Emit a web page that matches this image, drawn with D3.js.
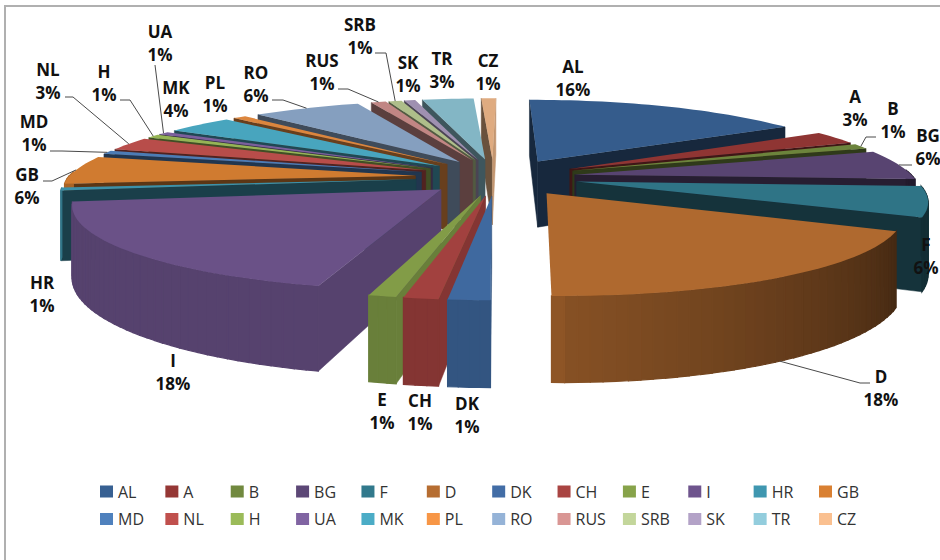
<!DOCTYPE html>
<html lang="en">
<head>
<meta charset="utf-8"/>
<title>3D exploded pie</title>
<script src="https://d3js.org/d3.v7.min.js"></script>
<style>
  body { margin: 0; background: #fff; }
  text { font-family: "Open Sans", sans-serif; }
</style>
</head>
<body>
<div id="chart"></div>
<script>
// values, percent
var categories = ["AL","A","B","BG","F","D","DK","CH","E","I","HR","GB","MD","NL","H","UA","MK","PL","RO","RUS","SRB","SK","TR","CZ"];
var values = [15.8,2.6,1.0,5.8,5.8,18.0,1.5,1.25,1.0,18.0,0.6,5.5,0.7,2.6,0.7,0.6,3.6,0.7,5.8,0.8,0.7,0.6,2.8,0.8];
var percentLabels = [16,3,1,6,6,18,1,1,1,18,1,6,1,3,1,1,4,1,6,1,1,1,3,1];
var colors = ["#376092","#953735","#71893F","#5C4776","#31798C","#B66D31","#426DA6","#A94442","#87A34A","#6E548D","#3F97B0","#D98032","#4F81BD","#C0504D","#9BBB59","#8064A2","#4BACC6","#F79646","#95B3D7","#D99694","#C3D69B","#B3A2C7","#93CDDD","#FAC090"];

var w = 940, h = 560;

// label centres (name line); second line sits below
var labelPos = {
  AL:[573,67], A:[855,97], B:[893,109], BG:[928,136], F:[926,245], D:[881,377],
  DK:[467,404], CH:[420,401], E:[382,400], I:[173,361], HR:[42,283], GB:[27,175],
  MD:[34,122], NL:[48,70], H:[104,72], UA:[160,32], MK:[176,88], PL:[215,83],
  RO:[256,73], RUS:[322,61], SRB:[360,25], SK:[408,63], TR:[442,59], CZ:[488,61]
};
// leader stubs: start of the line and the elbow; the end is on the slice rim
var leaders = {
  B:[[876,137],[866,137]], BG:[[912,165],[901,165]], D:[[870,383],[860,383]], GB:[[43,181],[52,181]],
  MD:[[50,151],[62,151]], NL:[[65,97],[73,97]], H:[[120,100],[130,100]], UA:[[155,65]],
  RO:[[272,100],[283,100]], RUS:[[338,89],[348,89]], SRB:[[375,53],[386,53]]
};

// projection settings of the 3d pie
var cx = 494, cy = 177, persp = 1900, yScale = 0.229, skew = 0.035, backSkew = 0.03;
var radius = 340, radiusLeft = 346, explode = 80, apexShift = 7, depth = 68;

function project(X, Y, z) {
  var s = persp / (persp + Y);
  return [cx + X * s + Math.max(0, -Y) * skew + Math.max(0, Y - 300) * backSkew, cy - yScale * Y * s + z * s];
}

var pie = d3.pie().sort(null);
var slices = pie(values).map(function (d) {
  var mid = (d.startAngle + d.endAngle) / 2;
  return {
    i: d.index, name: categories[d.index], start: d.startAngle, end: d.endAngle, mid: mid,
    ax: explode * Math.sin(mid), ay: explode * Math.cos(mid)
  };
});

function rimPoint(s, a, z) {
  var sin = Math.sin(a);
  return project(s.ax + (sin < 0 ? radiusLeft : radius) * sin, s.ay + radius * Math.cos(a), z);
}
function apex(s, z) {
  var p = project(s.ax, s.ay, z);
  return [p[0] + apexShift * Math.abs(Math.sin(2 * s.mid)), p[1]];
}

var poly = d3.line().curve(d3.curveLinearClosed);

var svg = d3.select("#chart").append("svg").attr("width", w).attr("height", h);

// frame, only top and left are inside the picture
svg.append("rect").attr("x", 5).attr("y", 6).attr("width", 950).attr("height", 600)
  .attr("fill", "none").attr("stroke", "#b0b0b0").attr("stroke-width", 2);

function shade(c, k) {
  var q = d3.rgb(c);
  return d3.rgb(q.r * k, q.g * k, q.b * k).formatHex();
}

function rimShade(a) {
  var deg = a * 180 / Math.PI;
  if (deg >= 180) return 0.78;
  return Math.max(0.38, 0.74 - 0.36 * (180 - deg) / 65);
}

// back slices first
var order = slices.slice().sort(function (a, b) { return b.ay - a.ay; });

order.forEach(function (s) {
  var g = svg.append("g");
  // walls, only the ones that face the viewer
  [[s.start, -Math.cos(s.start), Math.sin(s.start)], [s.end, Math.cos(s.end), -Math.sin(s.end)]].forEach(function (e) {
    if (e[1] * -s.ax + e[2] * (-persp - s.ay) <= 0) return;
    var col = shade(colors[s.i], e[1] > 0.8 ? 0.78 : 0.42);
    g.append("path")
      .attr("d", poly([apex(s, 0), rimPoint(s, e[0], 0), rimPoint(s, e[0], depth), apex(s, depth)]))
      .attr("fill", col).attr("stroke", col).attr("stroke-width", 0.5);
  });
  // rim, in short pieces so the shade can change along it
  var steps = Math.max(2, Math.ceil((s.end - s.start) / 0.03));
  d3.range(steps).forEach(function (j) {
    var a0 = s.start + (s.end - s.start) * j / steps;
    var a1 = s.start + (s.end - s.start) * (j + 1) / steps;
    if (Math.cos((a0 + a1) / 2) > 0.05) return;
    var col = shade(colors[s.i], rimShade((a0 + a1) / 2));
    g.append("path")
      .attr("d", poly([rimPoint(s, a0, 0), rimPoint(s, a1, 0), rimPoint(s, a1, depth), rimPoint(s, a0, depth)]))
      .attr("fill", col).attr("stroke", col).attr("stroke-width", 1.2);
  });
  // top
  var top = [apex(s, 0)];
  d3.range(steps + 1).forEach(function (j) {
    top.push(rimPoint(s, s.start + (s.end - s.start) * j / steps, 0));
  });
  var light = d3.hsl(colors[s.i]).l > 0.6;
  g.append("path").attr("d", poly(top)).attr("fill", shade(colors[s.i], light ? 0.89 : 0.96));
});

// leader lines
var leaderLine = d3.line();
slices.forEach(function (s) {
  if (!leaders[s.name]) return;
  var pts = leaders[s.name].concat([rimPoint(s, s.mid, s.name == "D" ? depth : 0)]);
  svg.append("path").attr("d", leaderLine(pts)).attr("fill", "none")
    .attr("stroke", "#4a4a4a").attr("stroke-width", 1);
});

// data labels
slices.forEach(function (s) {
  var p = labelPos[s.name];
  var t = svg.append("text").attr("text-anchor", "middle").attr("font-size", 17)
    .attr("font-weight", 700).attr("fill", "#111");
  t.append("tspan").attr("x", p[0]).attr("y", p[1] + 6).text(s.name);
  t.append("tspan").attr("x", p[0]).attr("y", p[1] + 29).text(percentLabels[s.i] + "%");
});

// legend, 12 columns in 2 rows
var legendX = d3.scalePoint().domain(d3.range(12)).range([100, 819]);
var legendY = d3.scalePoint().domain([0, 1]).range([491.5, 519]);
categories.forEach(function (name, i) {
  var col = i % 12, row = Math.floor(i / 12);
  svg.append("rect").attr("x", legendX(col)).attr("y", legendY(row) - 6)
    .attr("width", 13).attr("height", 12).attr("fill", colors[i]);
  svg.append("text").attr("x", legendX(col) + 18).attr("y", legendY(row) + 6)
    .attr("font-size", 16).attr("fill", "#333").text(name);
});
</script>
</body>
</html>
